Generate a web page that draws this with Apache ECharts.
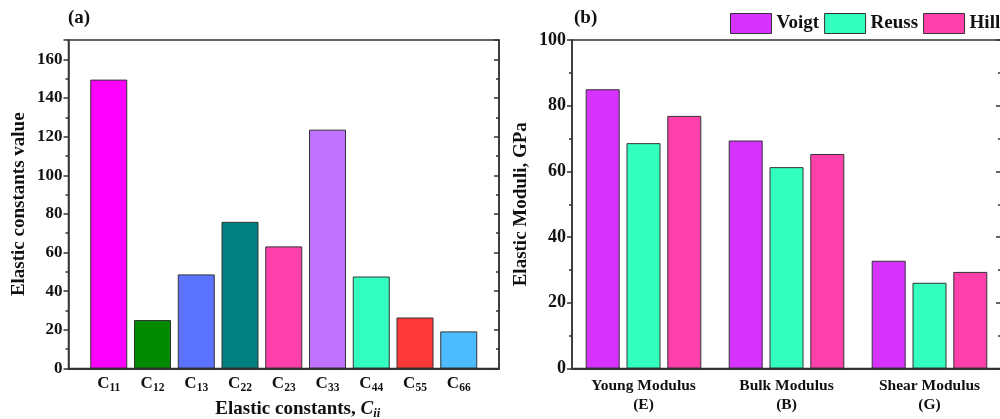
<!DOCTYPE html>
<html>
<head>
<meta charset="utf-8">
<script src="https://cdn.jsdelivr.net/npm/echarts@6/dist/echarts.min.js"></script>
<style>
html,body{margin:0;padding:0;background:#fff;}
#c{width:1000px;height:419px;}
</style>
</head>
<body>
<div id="c"></div>
<script>
// Panel (a): elastic constants
const constSubs = ['11','12','13','22','23','33','44','55','66'];
const constValues = [149.5, 25.1, 48.7, 75.9, 63.2, 123.6, 47.6, 26.4, 19.2];
const constColors = ['#FF00FF','#008A00','#5C73FF','#008080','#FF40AA','#BF73FF','#33FFC0','#FF3838','#4DBBFF'];

// Panel (b): elastic moduli
const moduliCategories = ['Young Modulus\n(E)','Bulk Modulus\n(B)','Shear Modulus\n(G)'];
const voigt = [85.0, 69.4, 32.8];
const reuss = [68.6, 61.3, 26.1];
const hill  = [76.9, 65.3, 29.4];
const seriesNames = ['Voigt','Reuss','Hill'];
const seriesColors = ['#D633FF','#33FFBF','#FF40AA'];

const FONT = '"Liberation Serif", "DejaVu Serif", serif';
const AX = '#333';
const TXT = '#111';

const chart = echarts.init(document.getElementById('c'), null, {renderer:'canvas'});

function yAxisPair(gridIndex, max, interval, showMaxLabel, fs){
  const common = {
    type: 'value', gridIndex, min: 0, max, interval,
    splitLine: {show:false},
    axisLine: {show:true, lineStyle:{color:AX, width:1.5}},
    minorTick: {show:true, splitNumber:2, length:3, lineStyle:{color:AX, width:1.5}},
  };
  return [
    Object.assign({}, common, {
      position: 'left',
      axisTick: {show:true, inside:false, length:5, lineStyle:{color:AX, width:1.5}},
      axisLabel: {margin:6, showMaxLabel, fontFamily:FONT, fontWeight:'bold', fontSize:fs, color:TXT},
      nameLocation: 'middle',
      nameTextStyle: {fontFamily: FONT, fontWeight:'bold', fontSize:19, color:TXT},
    }),
    Object.assign({}, common, {
      position: 'right',
      axisTick: {show:true, inside:true, length:5, lineStyle:{color:AX, width:1.5}},
      axisLabel: {show:false},
    })
  ];
}

const yA = yAxisPair(0, 170, 20, false, 17);
yA[0].name = 'Elastic constants value';
yA[0].nameGap = 40;
const yB = yAxisPair(1, 100, 20, true, 18);
yB[0].name = 'Elastic Moduli, GPa';
yB[0].nameGap = 41;

const option = {
  animation: false,
  backgroundColor: '#fff',
  textStyle: {fontFamily: FONT},
  title: [
    {text: '(a)', left: 68, top: 9, padding: 0, textStyle:{fontFamily:FONT, fontWeight:'bold', fontSize:19, color:TXT}},
    {text: '(b)', left: 574, top: 9, padding: 0, textStyle:{fontFamily:FONT, fontWeight:'bold', fontSize:19, color:TXT}}
  ],
  legend: {
    left: 730, top: 13, width: 300, padding: 0,
    icon: 'rect',
    itemWidth: 41, itemHeight: 20, itemGap: 5,
    data: seriesNames,
    textStyle: {fontFamily:FONT, fontWeight:'bold', fontSize:19, color:TXT},
    itemStyle: {borderColor:'#333', borderWidth:1}
  },
  grid: [
    {left: 68.5, top: 40, width: 430.5, height: 328.5, show:true, borderColor: AX, borderWidth: 1.5, outerBoundsMode:'none', containLabel:false},
    {left: 572, top: 40, width: 429, height: 328.5, show:true, borderColor: AX, borderWidth: 1.5, outerBoundsMode:'none', containLabel:false}
  ],
  xAxis: [
    {
      type: 'value', gridIndex: 0, min: 0.08, max: 9.92,
      splitLine:{show:false},
      axisLine:{show:true, onZero:false, lineStyle:{color:AX, width:2}},
      axisTick:{show:false},
      axisLabel:{
        customValues: constSubs.map((s,i)=>i+1),
        margin: 4,
        formatter: v => '{c|C}{s|' + constSubs[Math.round(v)-1] + '}',
        rich: {
          c: {fontFamily:FONT, fontWeight:'bold', fontSize:17, color:TXT},
          s: {fontFamily:FONT, fontWeight:'bold', fontSize:11.5, color:TXT, padding:[10,0,0,0]}
        }
      },
      name: 'Elastic constants, {i|C}{is|ii}',
      nameLocation: 'middle',
      nameGap: 25,
      nameTextStyle: {
        fontFamily:FONT, fontWeight:'bold', fontSize:19, color:TXT, padding:[0,0,0,28],
        rich: {
          i: {fontFamily:FONT, fontWeight:'bold', fontStyle:'italic', fontSize:19, color:TXT},
          is: {fontFamily:FONT, fontWeight:'bold', fontStyle:'italic', fontSize:12.5, color:TXT, padding:[10,0,0,0]}
        }
      }
    },
    {
      type: 'category', gridIndex: 1, data: moduliCategories,
      axisLine:{show:true, lineStyle:{color:AX, width:2}},
      axisTick:{show:false},
      axisLabel: {margin:8, lineHeight:19, fontFamily:FONT, fontWeight:'bold', fontSize:15.5, color:TXT}
    }
  ],
  yAxis: [yA[0], yA[1], yB[0], yB[1]],
  series: [
    {
      type: 'bar', xAxisIndex: 0, yAxisIndex: 0, barWidth: 37,
      data: constValues.map((v,i)=>({value:[i+1, v], itemStyle:{color: constColors[i]}})),
      itemStyle: {borderColor:'#333', borderWidth:1}
    },
    ...[voigt, reuss, hill].map((d, k) => ({
      type: 'bar', name: seriesNames[k], xAxisIndex: 1, yAxisIndex: 2,
      barWidth: 34, barGap: '20%',
      data: d,
      itemStyle: {color: seriesColors[k], borderColor:'#333', borderWidth:1}
    }))
  ]
};
chart.setOption(option);
</script>
</body>
</html>
